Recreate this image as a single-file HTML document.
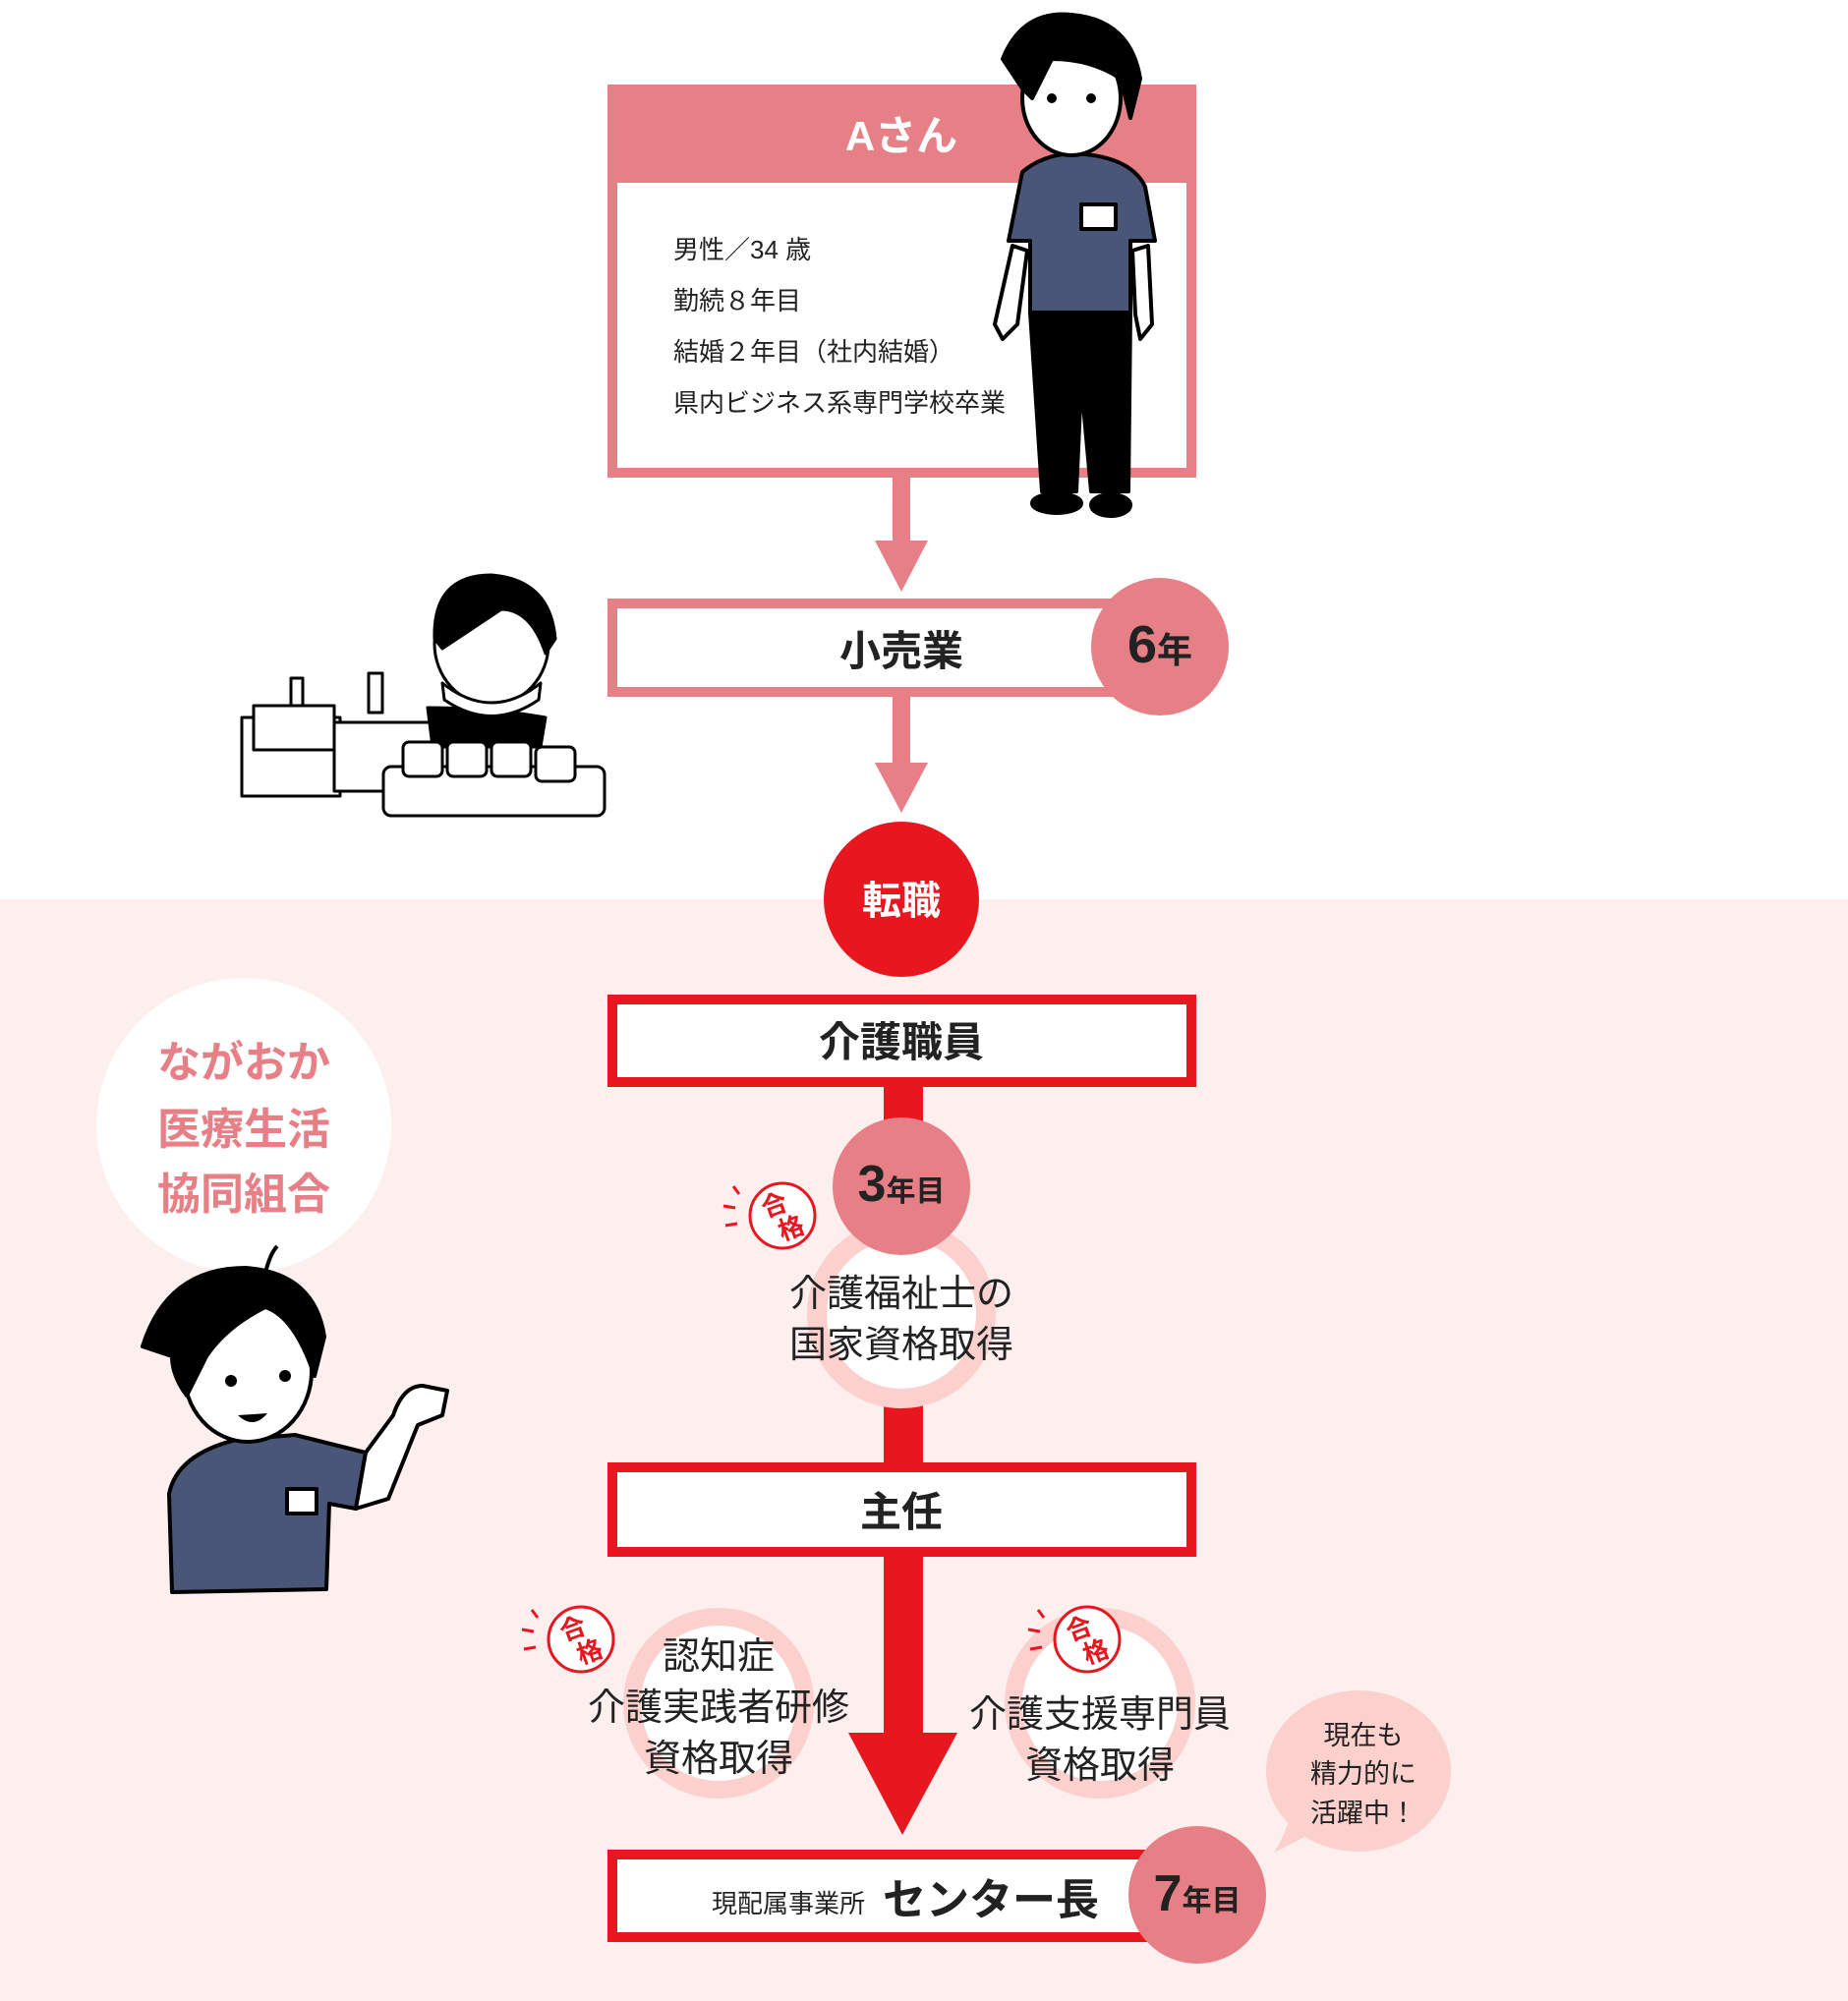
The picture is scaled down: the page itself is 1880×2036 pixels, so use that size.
<!DOCTYPE html>
<html><head><meta charset="utf-8"><style>
html,body{margin:0;padding:0;background:#fff}
svg{display:block}
text{font-family:"Liberation Sans","Noto Sans CJK JP",sans-serif}
</style></head><body>
<svg width="1880" height="2036" viewBox="0 0 1880 2036" xmlns="http://www.w3.org/2000/svg">
<rect x="0" y="0" width="1880" height="2036" fill="#fff"/>
<rect x="0" y="915" width="1880" height="1121" fill="#fcefee"/>

<rect x="623" y="91" width="589" height="390" fill="#fff" stroke="#e77f86" stroke-width="10"/>
<rect x="618" y="86" width="599" height="100" fill="#e77f86"/>
<text x="917" y="153" font-size="42" font-weight="bold" fill="#fff" text-anchor="middle">Aさん</text>
<g font-size="26" fill="#222">
<text x="685" y="263">男性／34 歳</text>
<text x="685" y="315">勤続８年目</text>
<text x="685" y="367">結婚２年目（社内結婚）</text>
<text x="685" y="419">県内ビジネス系専門学校卒業</text>
</g>

<rect x="908" y="486" width="18" height="66" fill="#e77f86"/>
<polygon points="890,550 944,550 917,602" fill="#e77f86"/>

<rect x="623" y="614" width="589" height="90" fill="#fff" stroke="#e77f86" stroke-width="10"/>
<text x="917" y="677" font-size="42" font-weight="bold" fill="#222" text-anchor="middle">小売業</text>
<circle cx="1180" cy="658" r="70" fill="#e77f86"/>
<text x="1180" y="674" text-anchor="middle" fill="#222" font-weight="bold"><tspan font-size="54">6</tspan><tspan font-size="36">年</tspan></text>

<rect x="908" y="708" width="18" height="70" fill="#e77f86"/>
<polygon points="890,776 944,776 917,827" fill="#e77f86"/>

<circle cx="917" cy="915" r="79" fill="#e8161f"/>
<text x="917" y="930" font-size="40" font-weight="bold" fill="#fff" text-anchor="middle">転職</text>

<rect x="899" y="1100" width="40" height="400" fill="#e8161f"/>

<rect x="623" y="1017" width="589" height="84" fill="#fff" stroke="#e8161f" stroke-width="10"/>
<text x="917" y="1075" font-size="42" font-weight="bold" fill="#222" text-anchor="middle">介護職員</text>

<circle cx="917" cy="1337" r="86" fill="#fff" stroke="#fbd0cd" stroke-width="20"/>
<circle cx="917" cy="1207" r="70" fill="#e77f86"/>
<text x="917" y="1222" text-anchor="middle" fill="#222" font-weight="bold"><tspan font-size="52">3</tspan><tspan font-size="30">年目</tspan></text>
<g font-size="38" fill="#222" text-anchor="middle">
<text x="917" y="1329">介護福祉士の</text>
<text x="917" y="1381">国家資格取得</text>
</g>

<rect x="623" y="1493" width="589" height="86" fill="#fff" stroke="#e8161f" stroke-width="10"/>
<text x="917" y="1553" font-size="42" font-weight="bold" fill="#222" text-anchor="middle">主任</text>

<rect x="899" y="1584" width="40" height="182" fill="#e8161f"/>
<polygon points="863,1763 974,1763 918,1867" fill="#e8161f"/>

<circle cx="731" cy="1733" r="88" fill="#fff" stroke="#fbd0cd" stroke-width="18"/>
<g font-size="38" fill="#222" text-anchor="middle">
<text x="731" y="1698">認知症</text>
<text x="731" y="1750">介護実践者研修</text>
<text x="731" y="1802">資格取得</text>
</g>
<circle cx="1119" cy="1733" r="88" fill="#fff" stroke="#fbd0cd" stroke-width="18"/>
<g font-size="38" fill="#222" text-anchor="middle">
<text x="1119" y="1757">介護支援専門員</text>
<text x="1119" y="1809">資格取得</text>
</g>

<g fill="none" stroke="#e8161f" stroke-width="3">
<g transform="translate(796,1237)">
<circle r="33" fill="#fff"/>
<line x1="-50" y1="-30" x2="-44" y2="-22"/><line x1="-60" y1="-10" x2="-48" y2="-8"/><line x1="-58" y1="10" x2="-46" y2="8"/>
<text x="-4" y="-4" font-size="26" font-weight="bold" fill="#e8161f" stroke="none" text-anchor="middle" transform="rotate(-20)">合</text>
<text x="4" y="24" font-size="26" font-weight="bold" fill="#e8161f" stroke="none" text-anchor="middle" transform="rotate(-20)">格</text>
</g>
<g transform="translate(591,1668)">
<circle r="33" fill="#fff"/>
<line x1="-50" y1="-30" x2="-44" y2="-22"/><line x1="-60" y1="-10" x2="-48" y2="-8"/><line x1="-58" y1="10" x2="-46" y2="8"/>
<text x="-4" y="-4" font-size="26" font-weight="bold" fill="#e8161f" stroke="none" text-anchor="middle" transform="rotate(-20)">合</text>
<text x="4" y="24" font-size="26" font-weight="bold" fill="#e8161f" stroke="none" text-anchor="middle" transform="rotate(-20)">格</text>
</g>
<g transform="translate(1106,1668)">
<circle r="33" fill="#fff"/>
<line x1="-50" y1="-30" x2="-44" y2="-22"/><line x1="-60" y1="-10" x2="-48" y2="-8"/><line x1="-58" y1="10" x2="-46" y2="8"/>
<text x="-4" y="-4" font-size="26" font-weight="bold" fill="#e8161f" stroke="none" text-anchor="middle" transform="rotate(-20)">合</text>
<text x="4" y="24" font-size="26" font-weight="bold" fill="#e8161f" stroke="none" text-anchor="middle" transform="rotate(-20)">格</text>
</g>
</g>

<rect x="623" y="1887" width="589" height="84" fill="#fff" stroke="#e8161f" stroke-width="10"/>
<text x="724" y="1946" font-size="26" fill="#222">現配属事業所</text>
<text x="898" y="1948" font-size="44" font-weight="bold" fill="#222">センター長</text>
<circle cx="1218" cy="1928" r="70" fill="#e77f86"/>
<text x="1218" y="1944" text-anchor="middle" fill="#222" font-weight="bold"><tspan font-size="52">7</tspan><tspan font-size="30">年目</tspan></text>

<path d="M1296,1885 L1345,1860 L1320,1820 Q1312,1860 1296,1885 Z" fill="#fbd0cd"/>
<ellipse cx="1382" cy="1802" rx="94" ry="82" fill="#fbd0cd"/>
<g font-size="27" fill="#222" text-anchor="middle">
<text x="1387" y="1775">現在も</text>
<text x="1387" y="1814">精力的に</text>
<text x="1387" y="1854">活躍中！</text>
</g>

<circle cx="248" cy="1145" r="150" fill="#fff"/>
<g font-size="44" font-weight="bold" fill="#e77f86" text-anchor="middle">
<text x="248" y="1096">ながおか</text>
<text x="248" y="1164">医療生活</text>
<text x="248" y="1230">協同組合</text>
</g>

<g stroke="#000" stroke-width="4" stroke-linejoin="round">
<path d="M175,1620 L172,1520 Q180,1480 240,1465 L300,1460 L372,1478 L362,1535 L335,1530 L332,1617 Z" fill="#4a5677"/>
<rect x="292" y="1515" width="30" height="25" fill="#fff"/>
<path d="M372,1478 L400,1440 Q410,1410 430,1410 L455,1415 L450,1440 L425,1450 L395,1525 L362,1535 Z" fill="#fff"/>
<ellipse cx="252" cy="1395" rx="65" ry="72" fill="#fff"/>
<path d="M145,1370 Q170,1290 250,1290 Q320,1295 330,1360 L320,1400 Q300,1340 270,1330 Q230,1350 210,1380 L190,1420 Q175,1400 175,1380 L145,1370 Z" fill="#000"/>
<path d="M270,1295 Q275,1275 282,1268" fill="none"/>
</g>
<circle cx="235" cy="1405" r="6"/><circle cx="290" cy="1400" r="6"/>
<path d="M242,1440 Q258,1455 272,1438 Z" fill="#000"/>

<g stroke="#000" stroke-width="4" stroke-linejoin="round">
<path d="M1048,318 L1060,500 L1095,500 L1100,390 L1110,500 L1148,500 L1150,318 Z" fill="#000"/>
<ellipse cx="1075" cy="512" rx="25" ry="10" fill="#000"/>
<ellipse cx="1130" cy="514" rx="20" ry="11" fill="#000"/>
<path d="M1030,250 L1012,330 L1020,345 L1035,330 L1045,255 Z" fill="#fff"/>
<path d="M1168,250 L1172,330 L1160,345 L1155,320 L1152,255 Z" fill="#fff"/>
<path d="M1026,245 L1040,175 Q1060,158 1090,156 Q1150,158 1165,190 L1175,245 L1150,245 L1150,318 L1048,318 L1048,245 Z" fill="#4a5677"/>
<rect x="1100" y="208" width="35" height="25" fill="#fff"/>
<ellipse cx="1090" cy="100" rx="50" ry="58" fill="#fff"/>
<path d="M1020,60 Q1040,10 1090,15 Q1150,20 1160,80 L1150,120 L1140,80 Q1110,60 1070,60 L1050,100 L1040,90 Z" fill="#000"/>
</g>
<circle cx="1070" cy="100" r="5"/><circle cx="1110" cy="100" r="5"/>

<g stroke="#000" stroke-width="3" fill="#fff" stroke-linejoin="round">
<rect x="246" y="730" width="100" height="80"/>
<rect x="258" y="718" width="82" height="45"/>
<rect x="340" y="735" width="100" height="70"/>
<rect x="296" y="690" width="12" height="28"/>
<rect x="375" y="685" width="14" height="40"/>
<path d="M435,720 L440,760 L550,760 L555,730 Q500,720 435,720 Z" fill="#000"/>
<ellipse cx="500" cy="655" rx="58" ry="62"/>
<path d="M442,650 Q440,585 500,585 Q560,590 565,650 L555,665 Q540,620 510,620 L450,660 Z" fill="#000"/>
<path d="M450,695 Q500,735 550,695 L548,712 Q500,745 452,712 Z" fill="#fff"/>
<rect x="390" y="780" width="225" height="50" rx="8"/>
<rect x="410" y="755" width="40" height="35" rx="6"/>
<rect x="455" y="755" width="40" height="35" rx="6"/>
<rect x="500" y="755" width="40" height="35" rx="6"/>
<rect x="545" y="760" width="40" height="35" rx="6"/>
</g>
</svg>
</body></html>
